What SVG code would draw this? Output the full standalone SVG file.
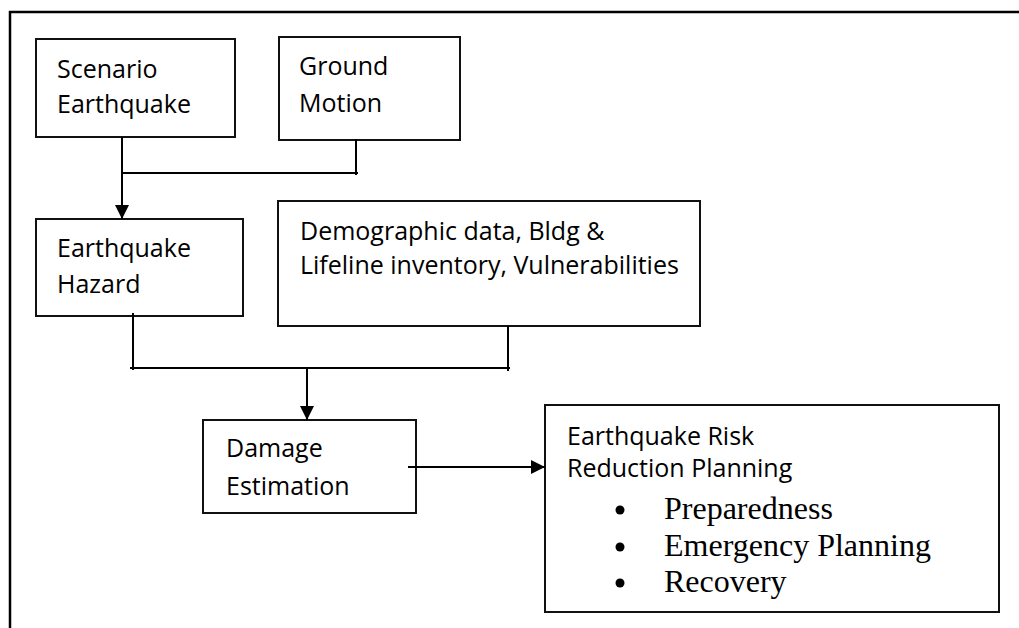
<svg xmlns="http://www.w3.org/2000/svg" width="1019" height="628" viewBox="0 0 1019 628">
  <style>
    .box { fill: #fff; stroke: #111; stroke-width: 2; }
    .lbl { font-family: "Open Sans", "Liberation Sans", sans-serif; font-size: 25px; fill: #000; }
    .item { font-family: "Liberation Serif", "Times New Roman", serif; font-size: 32px; fill: #000; }
    .wire { fill: none; stroke: #000; stroke-width: 2; }
    .frame { fill: none; stroke: #000; stroke-width: 2.5; }
  </style>
  <defs>
    <marker id="arrow" viewBox="0 0 14 14" refX="14" refY="7" markerWidth="14" markerHeight="14" markerUnits="userSpaceOnUse" orient="auto">
      <path d="M0,0 L14,7 L0,14 Z" fill="#000"/>
    </marker>
  </defs>

  <rect width="1019" height="628" fill="#fff"/>

  <!-- page frame: top and left rules -->
  <path class="frame" d="M10,628 V12 H1019"/>

  <g id="scenario-earthquake">
    <rect class="box" x="36" y="39" width="199" height="98"/>
    <text class="lbl" x="57" y="78">Scenario</text>
    <text class="lbl" x="57" y="113">Earthquake</text>
  </g>

  <g id="ground-motion">
    <rect class="box" x="279" y="37" width="181" height="103"/>
    <text class="lbl" x="299" y="75">Ground</text>
    <text class="lbl" x="299" y="112">Motion</text>
  </g>

  <g id="earthquake-hazard">
    <rect class="box" x="36" y="219" width="207" height="97"/>
    <text class="lbl" x="57" y="257">Earthquake</text>
    <text class="lbl" x="57" y="293">Hazard</text>
  </g>

  <g id="inventory">
    <rect class="box" x="278" y="201" width="422" height="125"/>
    <text class="lbl" x="300" y="240">Demographic data, Bldg &amp;</text>
    <text class="lbl" x="300" y="274">Lifeline inventory, Vulnerabilities</text>
  </g>

  <g id="damage-estimation">
    <rect class="box" x="203" y="420" width="213" height="93"/>
    <text class="lbl" x="226" y="457">Damage</text>
    <text class="lbl" x="226" y="495">Estimation</text>
  </g>

  <g id="risk-reduction">
    <rect class="box" x="545" y="405" width="454" height="207"/>
    <text class="lbl" x="567" y="445">Earthquake Risk</text>
    <text class="lbl" x="567" y="477">Reduction Planning</text>
    <circle cx="620" cy="510" r="4.5" fill="#000"/>
    <text class="item" x="664" y="519">Preparedness</text>
    <circle cx="620" cy="547" r="4.5" fill="#000"/>
    <text class="item" x="664" y="556">Emergency Planning</text>
    <circle cx="620" cy="583" r="4.5" fill="#000"/>
    <text class="item" x="664" y="592">Recovery</text>
  </g>

  <g id="connectors">
    <!-- scenario + ground motion into hazard -->
    <path class="wire" d="M356,139 V175"/>
    <path class="wire" d="M122,173 H358"/>
    <path class="wire" stroke-width="2.5" d="M122,137 V219" marker-end="url(#arrow)"/>
    <!-- hazard + inventory into damage -->
    <path class="wire" d="M133,313 V370"/>
    <path class="wire" d="M508,326 V371"/>
    <path class="wire" d="M130,368 H510"/>
    <path class="wire" stroke-width="2.5" d="M307,368 V420" marker-end="url(#arrow)"/>
    <!-- damage into planning -->
    <path class="wire" stroke-width="2.5" d="M408,467 H545" marker-end="url(#arrow)"/>
  </g>
</svg>
